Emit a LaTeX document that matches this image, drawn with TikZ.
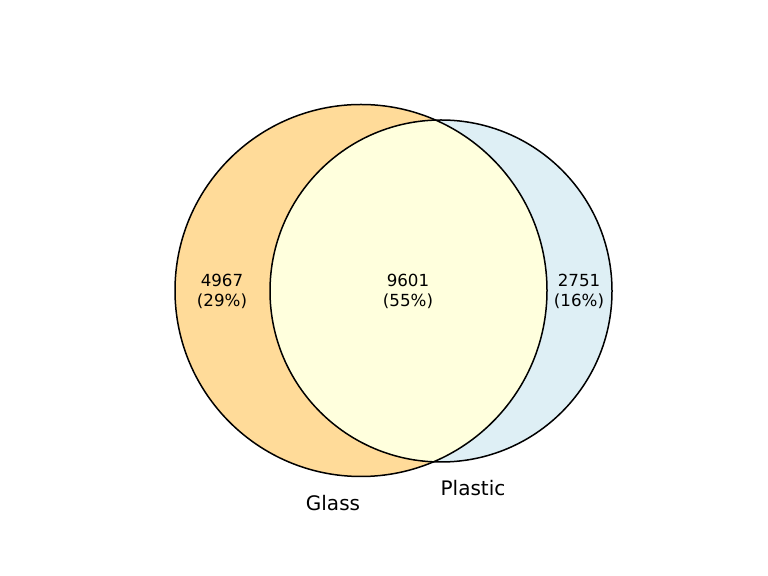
\documentclass[tikz,border=0pt]{standalone}
\usepackage{fontspec}
\setmainfont{DejaVu Sans}
\definecolor{glassfill}{HTML}{FFDB99}
\definecolor{plasticfill}{HTML}{DEEFF5}
\definecolor{bothfill}{HTML}{FFFFDD}
\tikzset{
  count/.style={font=\fontsize{10}{12}\selectfont, align=center},
  setname/.style={font=\fontsize{12}{14}\selectfont},
  outline/.style={line width=0.9pt}
}
\begin{document}
\begin{tikzpicture}[x=0.6pt, y=0.6pt]
      \useasboundingbox (0,0) rectangle (768,576);
      \coordinate (g) at (361,285.5);
      \coordinate (p) at (441,285);
      \fill[glassfill] (g) circle[radius=186];
      \fill[plasticfill] (p) circle[radius=171];
      \begin{scope}
          \clip (g) circle[radius=186];
          \fill[bothfill] (p) circle[radius=171];
        \end{scope}
      \draw[outline] (g) circle[radius=186];
      \draw[outline] (p) circle[radius=171];
      \node[count] (onlyg) at (222,284.5) {4967\\(29\%)};
      \node[count] (both) at (408,284.5) {9601\\(55\%)};
      \node[count] (onlyp) at (579,284.5) {2751\\(16\%)};
      \node[setname] (gname) at (333,73) {Glass};
      \node[setname] (pname) at (473,88) {Plastic};
    \end{tikzpicture}
\end{document}
